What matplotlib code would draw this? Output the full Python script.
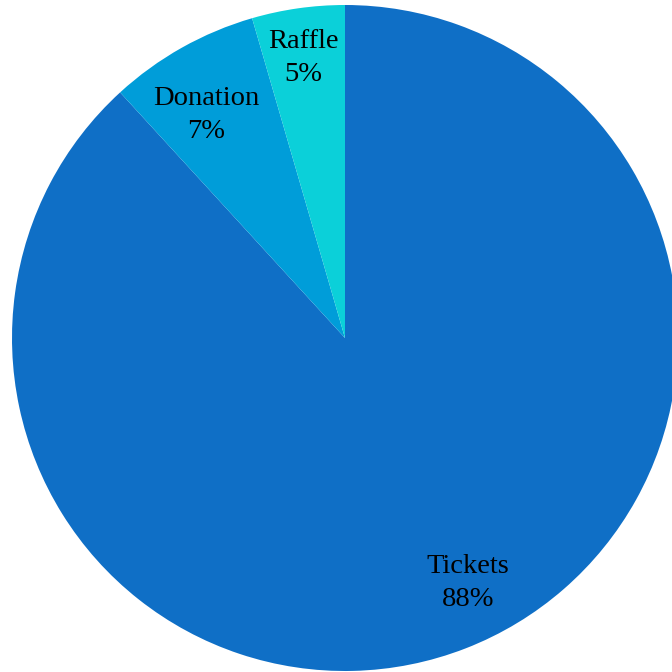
import matplotlib.pyplot as plt

labels = ["Tickets", "Donation", "Raffle"]
shares = [88.2, 7.3, 4.5]
pct_labels = ["88%", "7%", "5%"]
colors = ["#0F6FC6", "#009DD9", "#0BD0D9"]
# label centres (data units, pie radius = 1)
label_pos = [(0.37, -0.735), (-0.418, 0.67), (-0.126, 0.84)]

fig = plt.figure(figsize=(6.72, 6.72), dpi=100)
ax = fig.add_axes([0, 0, 1, 1])
ax.pie(shares, colors=colors, startangle=90, counterclock=False,
       radius=1, center=(0, 0), wedgeprops=dict(linewidth=0))

for lab, pct, (x, y) in zip(labels, pct_labels, label_pos):
    ax.text(x, y, f"{lab}\n{pct}", ha="center", va="center",
            fontsize=20.5, family="Liberation Serif", linespacing=1.4)

ax.set_xlim(-345 / 333, 327 / 333)
ax.set_ylim(-334 / 333, 338 / 333)
ax.set_aspect("equal")
ax.axis("off")
fig.savefig("out.png", dpi=100)
